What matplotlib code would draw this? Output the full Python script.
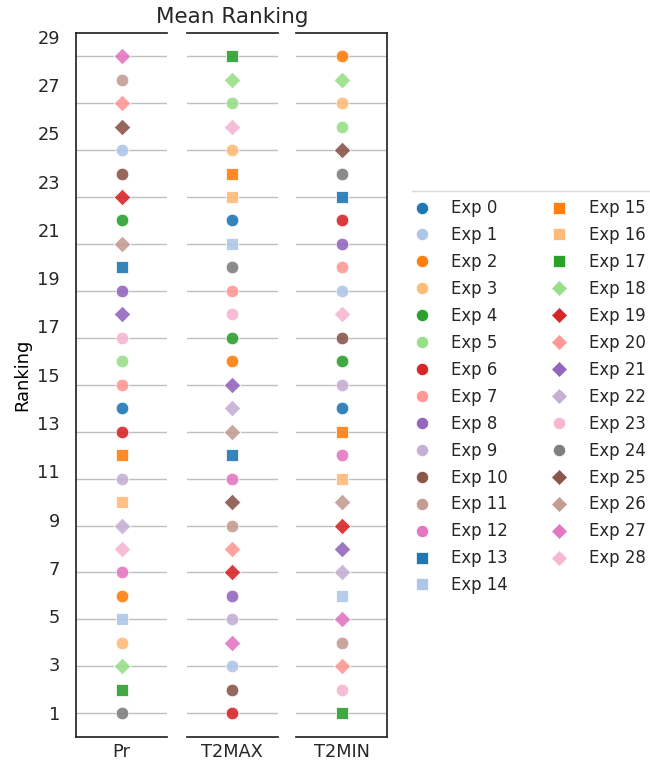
import matplotlib
matplotlib.use("Agg")
import matplotlib.pyplot as plt
from matplotlib.lines import Line2D

# experiment styling
exp_names = ["Exp %d" % i for i in range(29)]
tab20 = ["#1f77b4", "#aec7e8", "#ff7f0e", "#ffbb78", "#2ca02c", "#98df8a",
         "#d62728", "#ff9896", "#9467bd", "#c5b0d5", "#8c564b", "#c49c94",
         "#e377c2", "#f7b6d2", "#7f7f7f"]
color_idx = [0, 1, 2, 3, 4, 5, 6, 7, 8, 9, 10, 11, 12,
             0, 1, 2, 3, 4, 5, 6, 7, 8, 9, 13, 14, 10, 11, 12, 13]
exp_markers = ["o"] * 13 + ["s"] * 5 + ["D"] * 5 + ["o"] * 2 + ["D"] * 4

# mean ranking of each experiment (Exp 0 .. Exp 28)
variables = ["Pr", "T2MAX", "T2MIN"]
rank_pr = [14, 25, 6, 4, 22, 16, 13, 15, 19, 11, 24, 28, 7, 20, 5,
           12, 10, 2, 3, 23, 27, 18, 9, 17, 1, 26, 21, 29, 8]
rank_t2max = [22, 3, 16, 25, 17, 27, 1, 19, 6, 5, 2, 9, 11, 12, 21,
              24, 23, 29, 28, 7, 8, 15, 14, 18, 20, 10, 13, 4, 26]
rank_t2min = [14, 19, 29, 27, 16, 26, 22, 20, 21, 15, 17, 4, 12, 23, 6,
              13, 11, 1, 28, 9, 3, 8, 7, 2, 24, 25, 10, 5, 18]
rankings = [rank_pr, rank_t2max, rank_t2min]
grid_ticks = list(range(1, 30, 2))

plt.rcParams["font.family"] = "DejaVu Sans"
plt.rcParams["text.color"] = "0.15"
plt.rcParams["xtick.color"] = "0.15"
plt.rcParams["ytick.color"] = "0.15"

W, H = 650, 761
fig = plt.figure(figsize=(W / 100, H / 100), dpi=100)

bottom = (H - 736.7) / H
height = (736.7 - 32.7) / H
lefts = [76, 186.5, 296]
width = 91 / W
marker_area = {"o": 82, "s": 70, "D": 72}

axes = []
for k, var in enumerate(variables):
    ax = fig.add_axes([lefts[k] / W, bottom, width, height])
    for e in range(29):
        ax.scatter([0], [rankings[k][e]], s=marker_area[exp_markers[e]],
                   marker=exp_markers[e], color=tab20[color_idx[e]],
                   alpha=0.9, edgecolor="white", linewidth=0.6, zorder=3)
    ax.set_xlim(-0.5, 0.5)
    ax.set_ylim(0, 30)
    ax.set_xticks([0])
    ax.set_xticklabels([var], fontsize=12.8)
    ax.set_yticks(grid_ticks)
    ax.set_yticklabels([])
    ax.tick_params(length=0, pad=4.5)
    ax.grid(axis="y", color="0.75", linewidth=1)
    ax.set_axisbelow(True)
    for side in ["left", "right", "top", "bottom"]:
        ax.spines[side].set_color("0.15")
        ax.spines[side].set_linewidth(1.25)
    if k != 0:
        ax.spines["left"].set_visible(False)
    if k != 2:
        ax.spines["right"].set_visible(False)
    axes.append(ax)

axes[1].set_title("Mean Ranking", fontsize=15.5, pad=7)

# rank labels on their own axis along the left edge
lab_top = 12.6
lab = fig.add_axes([lefts[0] / W, bottom, width, (736.5 - lab_top) / H])
lab.set_ylim(0, 30)
lab.set_yticks(grid_ticks)
lab.set_yticklabels([str(t) for t in grid_ticks], fontsize=12.8)
lab.tick_params(axis="y", length=0, pad=11.5)
lab.set_xticks([])
lab.patch.set_visible(False)
for s in lab.spines.values():
    s.set_visible(False)
lab.set_ylabel("Ranking", fontsize=12.9, labelpad=4)

# legend
handles = [Line2D([], [], linestyle="none", marker=exp_markers[e],
                  markersize=8.8 if exp_markers[e] == "o" else 8.2,
                  markerfacecolor=tab20[color_idx[e]],
                  markeredgecolor="white", markeredgewidth=0.5)
           for e in range(29)]
fig.legend(handles, exp_names, loc="upper left", ncol=2,
           bbox_to_anchor=(410 / W, 1 - 196 / H), frameon=False,
           fontsize=11.9, borderaxespad=0, borderpad=0.2,
           labelspacing=0.54, handlelength=1.0, handletextpad=1.3,
           columnspacing=2.6)
fig.add_artist(Line2D([412 / W, 1.0], [1 - 191 / H, 1 - 191 / H],
                      transform=fig.transFigure, color="0.85", linewidth=1))

fig.savefig("out.png", dpi=100)
